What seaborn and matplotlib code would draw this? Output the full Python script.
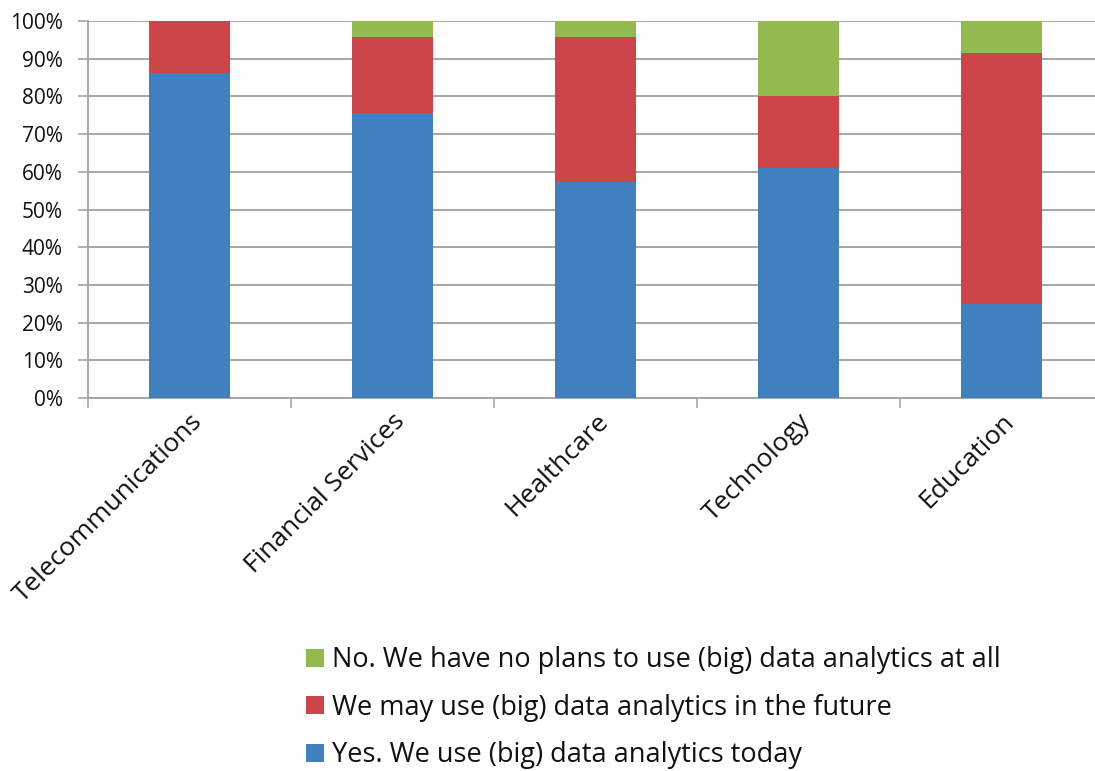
import matplotlib
matplotlib.use("Agg")
import matplotlib.pyplot as plt
from matplotlib.patches import Patch
from matplotlib.ticker import PercentFormatter
import seaborn as sns
import pandas as pd
import numpy as np

# Survey shares (percent) per industry
industries = ["Telecommunications", "Financial Services", "Healthcare", "Technology", "Education"]
use_today = [86.3, 75.6, 57.4, 61.1, 24.9]
may_use_future = [13.7, 20.1, 38.3, 19.1, 66.5]
no_plans = [0.0, 4.3, 4.3, 19.8, 8.6]

labels = [
    "No. We have no plans to use (big) data analytics at all",
    "We may use (big) data analytics in the future",
    "Yes. We use (big) data analytics today",
]
colors = ["#93BA4E", "#CD4549", "#4080BF"]

df = pd.DataFrame({
    "industry": industries,
    "yes": use_today,
    "may": may_use_future,
    "no": no_plans,
})
df["yes_may"] = df["yes"] + df["may"]
df["total"] = df["yes_may"] + df["no"]

sns.set_theme(style="white")
plt.rcParams["font.family"] = ["Open Sans", "DejaVu Sans"]

fig = plt.figure(figsize=(10.95, 7.71), dpi=100)
ax = fig.add_axes([88 / 1095, 373 / 771, 1015 / 1095, 377 / 771])

# Stacked bars: draw cumulative totals back to front
for col, color in zip(["total", "yes_may", "yes"], colors):
    sns.barplot(data=df, x="industry", y=col, color=color, width=0.4,
                saturation=1, ax=ax, zorder=3, linewidth=0)

ax.set_xlim(-0.5, len(industries) - 0.5)
ax.set_ylim(0, 100)
ax.set_yticks(np.arange(0, 101, 10))
ax.yaxis.set_major_formatter(PercentFormatter(decimals=0))
ax.grid(axis="y", color="#A6A6A6", linewidth=1.4, zorder=0)
ax.set_axisbelow(True)
ax.set_xlabel("")
ax.set_ylabel("")

for side in ["top", "right"]:
    ax.spines[side].set_visible(False)
for side in ["left", "bottom"]:
    ax.spines[side].set_color("#A6A6A6")
    ax.spines[side].set_linewidth(1.4)

# Category ticks sit on the boundaries between bars
ax.set_xticks(np.arange(-0.5, len(industries), 1.0), minor=True)
ax.tick_params(axis="x", which="minor", direction="out", length=7,
               color="#A6A6A6", width=1.2, bottom=True)
ax.tick_params(axis="x", which="major", length=0, pad=8)
ax.tick_params(axis="y", direction="out", length=7, color="#A6A6A6",
               width=1.2, left=True, labelsize=15, pad=11, labelcolor="#111111")

ax.set_xticks(range(len(industries)))
ax.set_xticklabels(industries, rotation=45, ha="right", rotation_mode="anchor",
                   fontsize=19, color="#111111")

handles = [Patch(facecolor=c, edgecolor="none") for c in colors]
fig.legend(handles, labels, loc="upper left", bbox_to_anchor=(282 / 1095, 1 - 622 / 771),
           frameon=False, fontsize=19.5, handlelength=0.65, handleheight=0.65,
           handletextpad=0.3, labelspacing=0.72, labelcolor="#111111")

fig.savefig("out.png", dpi=100)
